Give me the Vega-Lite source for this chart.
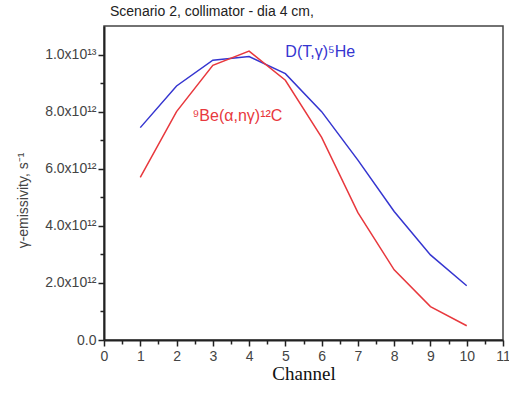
{
  "$schema": "https://vega.github.io/schema/vega-lite/v6.json",
  "width": 399,
  "height": 314,
  "autosize": "none",
  "padding": {"left": 104, "top": 26, "right": 6, "bottom": 54},
  "background": "white",
  "config": {
    "font": "Liberation Sans",
    "view": {"stroke": "#444444", "strokeWidth": 1.5}
  },
  "title": {
    "text": "Scenario 2,  collimator - dia 4 cm,",
    "anchor": "start",
    "frame": "group",
    "fontSize": 14,
    "fontWeight": "normal",
    "color": "#222222",
    "font": "Liberation Sans",
    "offset": 7,
    "dx": 6
  },
  "datasets": {
    "lines": [
      {"channel": 1, "value": 7.44e12, "series": "DT"},
      {"channel": 2, "value": 8.9e12, "series": "DT"},
      {"channel": 3, "value": 9.8e12, "series": "DT"},
      {"channel": 4, "value": 9.93e12, "series": "DT"},
      {"channel": 5, "value": 9.33e12, "series": "DT"},
      {"channel": 6, "value": 8.0e12, "series": "DT"},
      {"channel": 7, "value": 6.3e12, "series": "DT"},
      {"channel": 8, "value": 4.5e12, "series": "DT"},
      {"channel": 9, "value": 2.98e12, "series": "DT"},
      {"channel": 10, "value": 1.9e12, "series": "DT"},
      {"channel": 1, "value": 5.7e12, "series": "Be"},
      {"channel": 2, "value": 8.0e12, "series": "Be"},
      {"channel": 3, "value": 9.62e12, "series": "Be"},
      {"channel": 4, "value": 10.12e12, "series": "Be"},
      {"channel": 5, "value": 9.1e12, "series": "Be"},
      {"channel": 6, "value": 7.1e12, "series": "Be"},
      {"channel": 7, "value": 4.46e12, "series": "Be"},
      {"channel": 8, "value": 2.46e12, "series": "Be"},
      {"channel": 9, "value": 1.17e12, "series": "Be"},
      {"channel": 10, "value": 0.5e12, "series": "Be"}
    ],
    "labels": [
      {"channel": 5.0, "value": 9.9e12, "series": "DT", "label": "D(T,γ)⁵He"},
      {"channel": 2.44, "value": 7.67e12, "series": "Be", "label": "⁹Be(α,nγ)¹²C"}
    ]
  },
  "resolve": {"axis": {"x": "independent", "y": "independent"}},
  "layer": [
    {
      "data": {"name": "lines"},
      "mark": {"type": "line", "strokeWidth": 1.5},
      "encoding": {
        "x": {
          "field": "channel", "type": "quantitative",
          "scale": {"domain": [0, 11], "nice": false, "zero": false},
          "axis": {
            "orient": "bottom",
            "values": [0,1,2,3,4,5,6,7,8,9,10,11],
            "format": "d",
            "labelOverlap": false,
            "tickSize": 6,
            "tickColor": "#222222",
            "tickWidth": 1.5,
            "domainColor": "#222222",
            "domainWidth": 2,
            "grid": false,
            "labelFontSize": 14,
            "labelColor": "#444444",
            "labelPadding": 3,
            "labelFlush": false,
            "title": "Channel",
            "titleFont": "Liberation Serif",
            "titleFontSize": 19,
            "titleFontWeight": "normal",
            "titleColor": "#111111",
            "titlePadding": 1
          }
        },
        "y": {
          "field": "value", "type": "quantitative",
          "scale": {"domain": [0, 1.1e13], "nice": false},
          "axis": {
            "orient": "left",
            "values": [0,2e12,4e12,6e12,8e12,1e13],
            "labelExpr": "datum.value == 0 ? '0.0' : (datum.value >= 1e13 ? format(datum.value/1e13, '.1f') + 'x10¹³' : format(datum.value/1e12, '.1f') + 'x10¹²')",
            "labelOverlap": false,
            "tickSize": 6,
            "tickColor": "#222222",
            "tickWidth": 1.5,
            "domainColor": "#222222",
            "domainWidth": 2,
            "grid": false,
            "labelFontSize": 14,
            "labelColor": "#444444",
            "labelPadding": 2,
            "labelFlush": false,
            "title": "γ-emissivity, s⁻¹",
            "titleFontSize": 14,
            "titleFontWeight": "normal",
            "titleColor": "#444444",
            "titleX": -74,
            "titleY": 174,
            "titleAngle": -90,
            "titleAlign": "center",
            "titleBaseline": "bottom"
          }
        },
        "color": {
          "field": "series", "type": "nominal",
          "scale": {"domain": ["DT", "Be"], "range": ["#3535d0", "#e8383d"]},
          "legend": null
        },
        "detail": {"field": "series"}
      }
    },
    {
      "data": {"name": "labels"},
      "mark": {"type": "text", "align": "left", "baseline": "alphabetic", "fontSize": 16},
      "encoding": {
        "x": {
          "field": "channel", "type": "quantitative",
          "axis": {
            "orient": "bottom",
            "values": [0.5,1.5,2.5,3.5,4.5,5.5,6.5,7.5,8.5,9.5,10.5],
            "labels": false,
            "domain": false,
            "grid": false,
            "tickSize": 4,
            "tickColor": "#222222",
            "tickWidth": 1.5,
            "title": null
          }
        },
        "y": {
          "field": "value", "type": "quantitative",
          "axis": {
            "orient": "left",
            "values": [1e12,3e12,5e12,7e12,9e12],
            "labels": false,
            "domain": false,
            "grid": false,
            "tickSize": 4,
            "tickColor": "#222222",
            "tickWidth": 1.5,
            "title": null
          }
        },
        "text": {"field": "label"},
        "color": {"field": "series", "type": "nominal", "legend": null}
      }
    }
  ]
}
